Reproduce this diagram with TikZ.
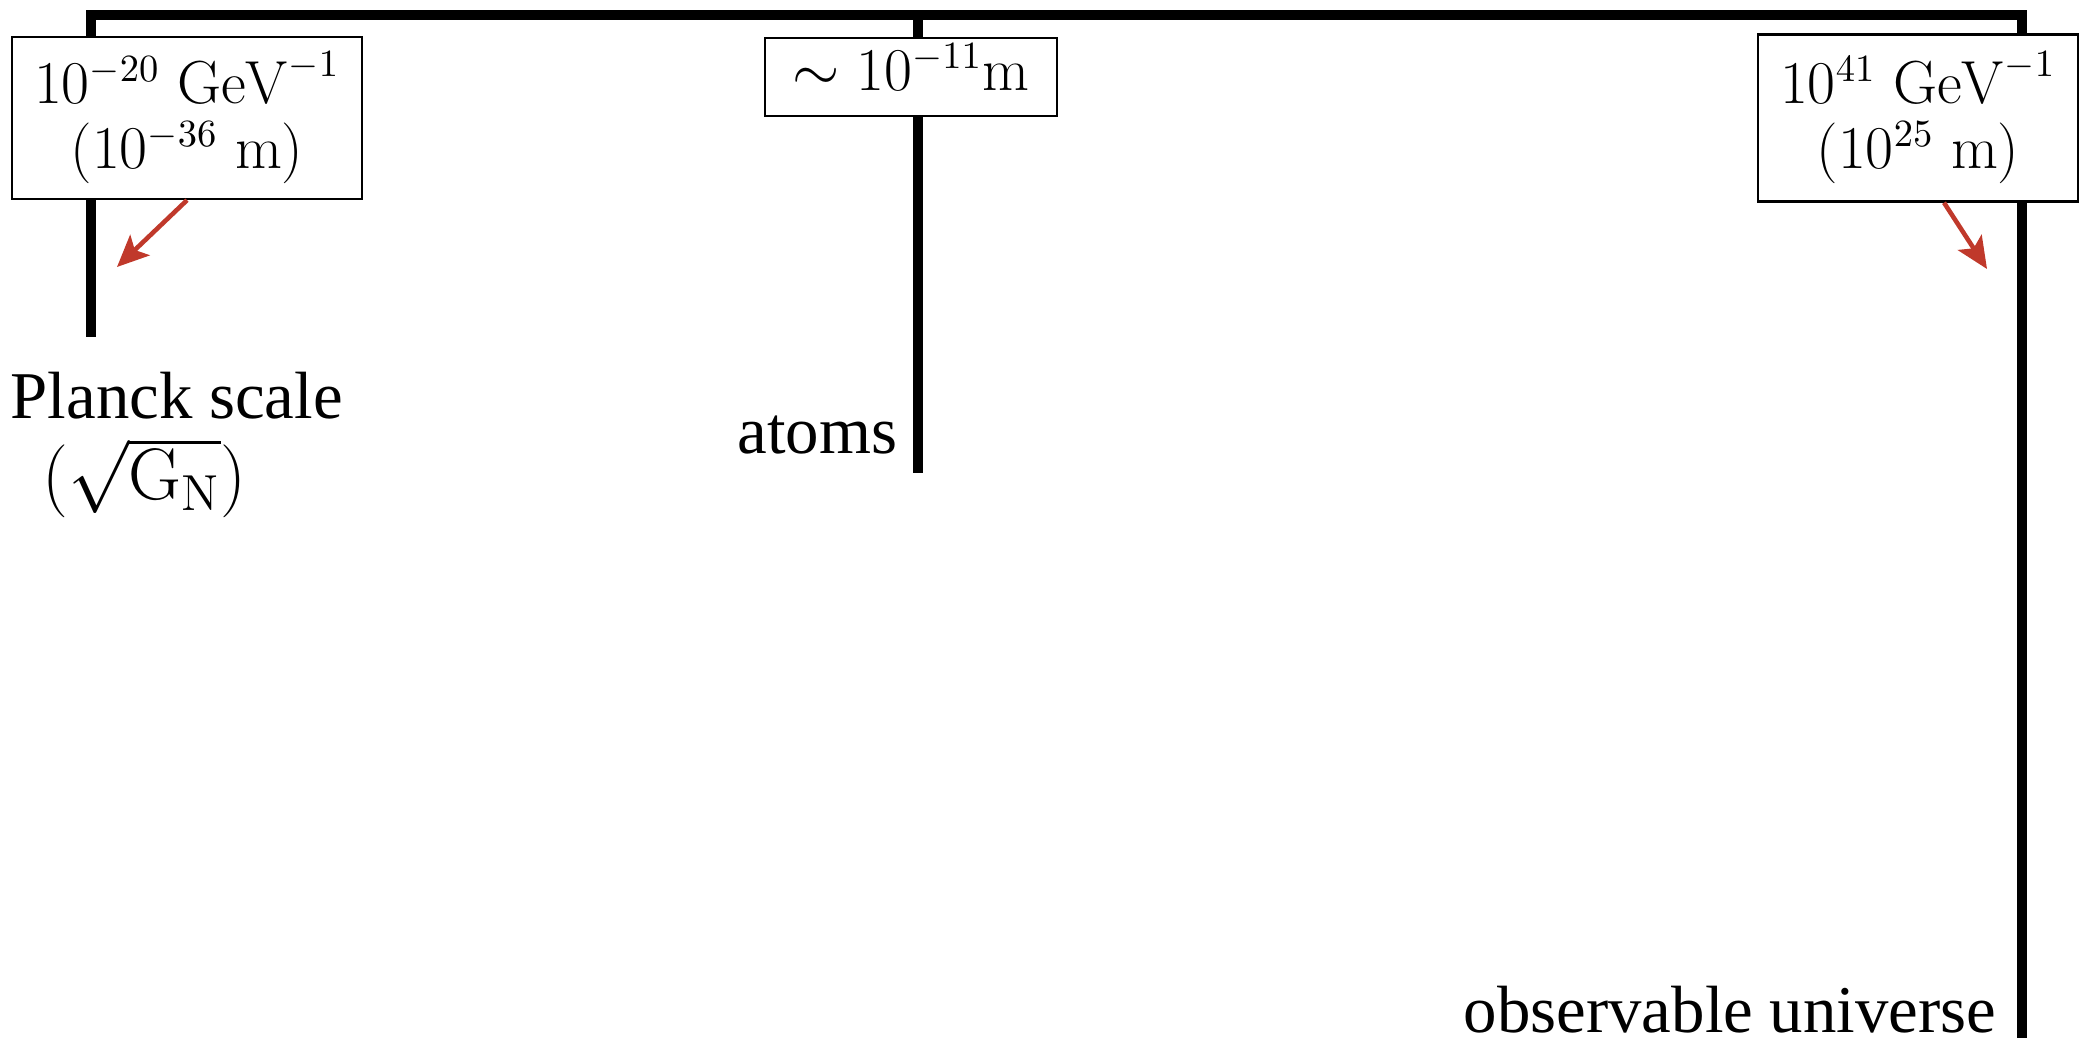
\documentclass[tikz,border=0pt]{standalone}
\usepackage[no-math]{fontspec}
\newfontfamily\timesfont{Liberation Serif}
\usetikzlibrary{arrows.meta}
\definecolor{arrowred}{RGB}{192,57,43}

\begin{document}
\begin{tikzpicture}[x=0.01cm,y=-0.01cm,>={Stealth[length=9pt,width=8pt,inset=2pt]},
    bar/.style={line width=2.85pt},
    scalebox/.style={draw,fill=white,line width=0.65pt,align=center,inner sep=0pt,font=\fontsize{16}{18.5}\selectfont},
    scaletext/.style={inner sep=0pt,font=\timesfont\fontsize{19}{21.6}\selectfont},
    pointer/.style={->,draw=arrowred,line width=1.3pt}]
    \useasboundingbox (0,0) rectangle (2081,1049);

    \coordinate (tl) at (91,15);
    \coordinate (tm) at (918,15);
    \coordinate (tr) at (2022,15);
    \coordinate (bl) at (91,337);
    \coordinate (bm) at (918,473);
    \coordinate (br) at (2022,1038);

    \draw[bar] (bl) -- (tl) -- (tr) -- (br);
    \draw[bar] (tm) -- (bm);

    \node[scalebox,minimum width=3.5cm,minimum height=1.62cm] (pbox) at (187,118) {$10^{-20}\ \mathrm{GeV}^{-1}$\\$(10^{-36}\ \mathrm{m})$};
    \node[scalebox,minimum width=2.92cm,minimum height=0.78cm] (abox) at (911,77) {\strut$\sim 10^{-11}\mathrm{m}$};
    \node[scalebox,minimum width=3.2cm,minimum height=1.67cm] (ubox) at (1918,118) {$10^{41}\ \mathrm{GeV}^{-1}$\\$(10^{25}\ \mathrm{m})$};

    \coordinate (ptip) at (117,267);
    \coordinate (utip) at (1987,269);
    \draw[pointer] (pbox.south) -- (ptip);
    \draw[pointer] ([xshift=0.26cm]ubox.south) -- (utip);

    \node[scaletext,anchor=north west,align=left] (planck) at (10,371) {Planck scale\\[1.5pt]\hspace*{9pt}\fontsize{20}{21.6}\selectfont$(\sqrt{\mathrm{G}_\mathrm{N}})$};
    \node[scaletext,anchor=base east] (atoms) at (898,454) {atoms};
    \node[scaletext,anchor=base east] (universe) at (1997,1032) {observable universe};
\end{tikzpicture}
\end{document}
